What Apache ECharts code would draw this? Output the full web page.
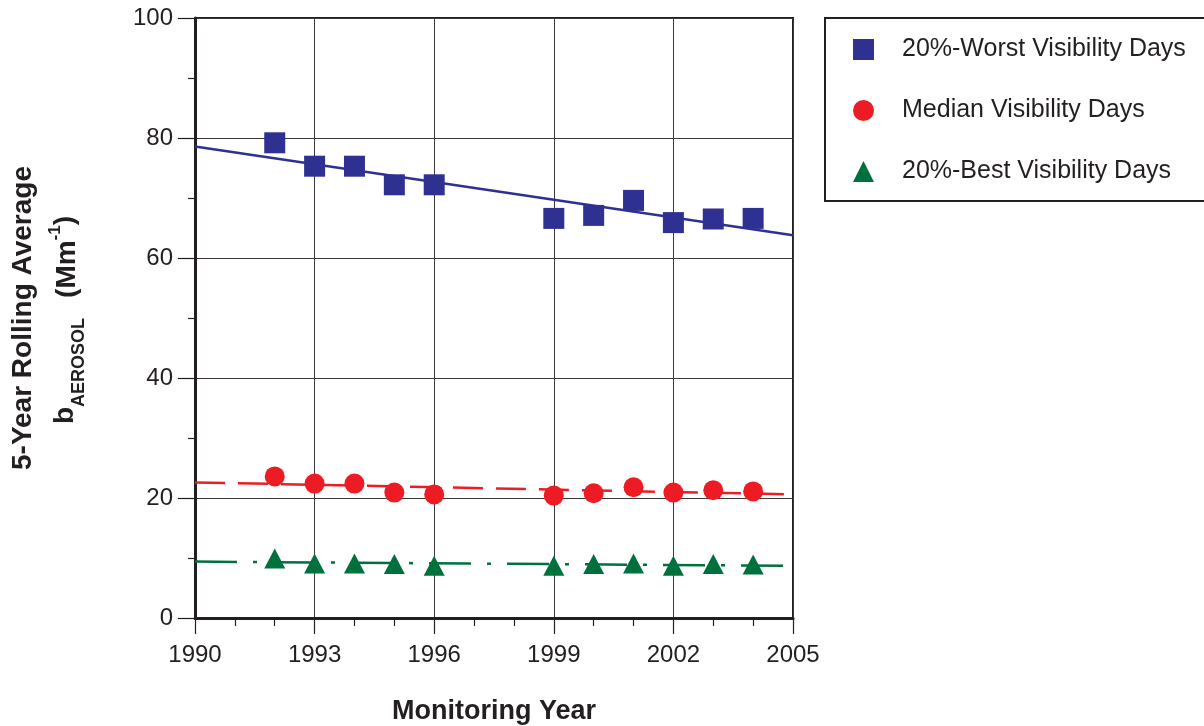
<!DOCTYPE html>
<html>
<head>
<meta charset="utf-8">
<script src="https://cdn.jsdelivr.net/npm/echarts@6/dist/echarts.min.js"></script>
<style>
html,body{margin:0;padding:0;background:#ffffff;}
#c{width:1204px;height:726px;}
</style>
</head>
<body>
<div id="c"></div>
<script>
// ---- data ----
const years = [1992, 1993, 1994, 1995, 1996, 1999, 2000, 2001, 2002, 2003, 2004];
const worst = [79.2, 75.3, 75.3, 72.2, 72.2, 66.6, 67.1, 69.6, 65.9, 66.5, 66.6];
const median = [23.6, 22.4, 22.4, 20.9, 20.6, 20.4, 20.8, 21.8, 20.9, 21.3, 21.1];
const best = [9.9, 9.1, 9.1, 9.0, 8.7, 8.7, 9.0, 9.1, 8.7, 9.0, 8.9];
const trendYears = [1990, 2005];
const worstTrend = [78.6, 63.8];
const medianTrend = [22.6, 20.6];
const bestTrend = [9.4, 8.7];
const seriesNames = ['20%-Worst Visibility Days', 'Median Visibility Days', '20%-Best Visibility Days'];
const xTitle = 'Monitoring Year';
const yTitle1 = '5-Year Rolling Average';

const FONT = '"Liberation Sans", Arial, Helvetica, sans-serif';
const INK = '#231F20';
const NAVY = '#2E3192';
const RED = '#ED1C24';
const GREEN = '#00703C';
const pts = (xs, ys) => xs.map((x, i) => [x, ys[i]]);

const chart = echarts.init(document.getElementById('c'), null, {renderer: 'canvas'});
const option = {
  animation: false,
  backgroundColor: '#ffffff',
  grid: {left: 195, right: 411, top: 18, bottom: 108, show: true, borderColor: INK, borderWidth: 2,
         backgroundColor: 'transparent', containLabel: false, outerBoundsMode: 'none'},
  xAxis: {
    type: 'value', min: 1990, max: 2005, interval: 3,
    name: xTitle, nameLocation: 'middle', nameGap: 80,
    nameTextStyle: {fontFamily: FONT, fontSize: 27, fontWeight: 'bold', color: INK},
    axisLine: {show: true, onZero: false, lineStyle: {color: INK, width: 3}},
    axisTick: {show: true, length: 16, lineStyle: {color: INK, width: 1.2}},
    minorTick: {show: true, splitNumber: 3, length: 8, lineStyle: {color: INK, width: 1.2}},
    axisLabel: {fontFamily: FONT, fontSize: 24, color: INK, margin: 25, formatter: v => String(v)},
    splitLine: {show: true, lineStyle: {color: '#3a3a3a', width: 1}}
  },
  yAxis: {
    type: 'value', min: 0, max: 100, interval: 20,
    axisLine: {show: true, onZero: false, lineStyle: {color: INK, width: 3}},
    axisTick: {show: true, length: 17, lineStyle: {color: INK, width: 1.2}},
    minorTick: {show: true, splitNumber: 2, length: 7, lineStyle: {color: INK, width: 1.2}},
    axisLabel: {fontFamily: FONT, fontSize: 24, color: INK, margin: 22},
    splitLine: {show: true, lineStyle: {color: '#3a3a3a', width: 1}}
  },
  legend: {
    orient: 'vertical', left: 825, top: 18,
    padding: [19, 40, 17, 28], itemGap: 36, itemWidth: 21, itemHeight: 21,
    borderColor: INK, borderWidth: 2, selectedMode: false,
    textStyle: {fontFamily: FONT, fontSize: 25, color: INK, padding: [0, 0, 0, 23]},
    data: [
      {name: seriesNames[0], icon: 'rect'},
      {name: seriesNames[1], icon: 'circle'},
      {name: seriesNames[2], icon: 'triangle'}
    ]
  },
  graphic: [
    {type: 'text', x: 23, y: 318, rotation: Math.PI / 2,
     style: {text: yTitle1, fontFamily: FONT, fontSize: 28, fontWeight: 'bold', fill: INK, align: 'center', verticalAlign: 'middle'}},
    {type: 'text', x: 65, y: 320, rotation: Math.PI / 2,
     style: {
       text: '{m|b}{sub|AEROSOL}{m2|(Mm}{sup|-1}{m|)}',
       fill: INK, align: 'center', verticalAlign: 'middle',
       rich: {
         m: {fontFamily: FONT, fontSize: 28, fontWeight: 'bold', fill: INK, verticalAlign: 'top', padding: [10, 0, 0, 0]},
         m2: {fontFamily: FONT, fontSize: 28, fontWeight: 'bold', fill: INK, verticalAlign: 'top', padding: [12, 0, 0, 20]},
         sub: {fontFamily: FONT, fontSize: 18, fontWeight: 'bold', fill: INK, verticalAlign: 'top', padding: [29, 0, 0, 0]},
         sup: {fontFamily: FONT, fontSize: 17, fontWeight: 'bold', fill: INK, verticalAlign: 'top', padding: [5, 0, 0, 0]}
       }
     }}
  ],
  series: [
    {name: 'worst-trend', type: 'line', data: pts(trendYears, worstTrend), symbol: 'none', silent: true, z: 2,
     lineStyle: {color: NAVY, width: 2.5, type: 'solid'}},
    {name: 'median-trend', type: 'line', data: pts(trendYears, medianTrend), symbol: 'none', silent: true, z: 2,
     lineStyle: {color: RED, width: 2.5, type: [30, 13]}},
    {name: 'best-trend', type: 'line', data: pts(trendYears, bestTrend), symbol: 'none', silent: true, z: 2,
     lineStyle: {color: GREEN, width: 2.5, type: [42, 16, 4, 16]}},
    {name: seriesNames[0], type: 'scatter', data: pts(years, worst), symbol: 'rect', symbolSize: 21, z: 3,
     itemStyle: {color: NAVY, opacity: 1}},
    {name: seriesNames[1], type: 'scatter', data: pts(years, median), symbol: 'circle', symbolSize: 20, z: 3,
     itemStyle: {color: RED, opacity: 1}},
    {name: seriesNames[2], type: 'scatter', data: pts(years, best), symbol: 'triangle', symbolSize: [21, 20], z: 3,
     itemStyle: {color: GREEN, opacity: 1}}
  ]
};
chart.setOption(option);
</script>
</body>
</html>
